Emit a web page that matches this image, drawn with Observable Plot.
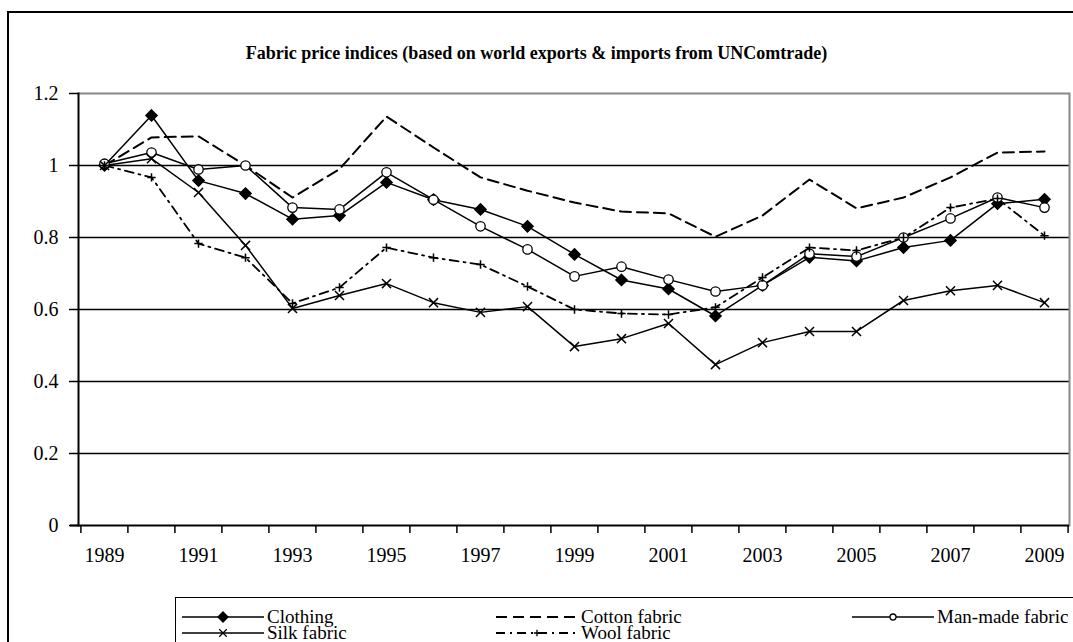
<!DOCTYPE html>
<html>
<head>
<meta charset="utf-8">
<script src="https://cdn.jsdelivr.net/npm/d3@7"></script>
<script src="https://cdn.jsdelivr.net/npm/@observablehq/plot@0.6"></script>
<style>
  body { margin: 0; background: #fff; }
  #wrap { position: relative; width: 1073px; height: 642px; overflow: hidden; background: #fff; font-family: "Liberation Serif", "DejaVu Serif", serif; color: #000; }
  #outer { position: absolute; left: 7px; top: 11px; width: 1080px; height: 700px; border: 2px solid #000; }
  #title { position: absolute; left: 0; top: 42px; width: 1073px; text-align: center; font-weight: bold; font-size: 18px; line-height: 22px; }
  #plot { position: absolute; left: 0; top: 80px; }
  #legend { position: absolute; left: 175px; top: 597px; width: 920px; height: 80px; border: 1.5px solid #000; background: #fff; }
  .item { position: absolute; display: flex; align-items: center; font-size: 19px; line-height: 16px; height: 16px; white-space: nowrap; }
  .item svg { display: block; margin-right: 3px; }
</style>
</head>
<body>
<div id="wrap">
  <div id="outer"></div>
  <div id="title">Fabric price indices (based on world exports &amp; imports from UNComtrade)</div>
  <div id="plot"></div>
  <div id="legend"></div>
</div>
<script>
// ---- data ----
const years = [1989, 1990, 1991, 1992, 1993, 1994, 1995, 1996, 1997, 1998, 1999, 2000, 2001, 2002, 2003, 2004, 2005, 2006, 2007, 2008, 2009];
const clothing = [1.0, 1.139, 0.958, 0.922, 0.851, 0.861, 0.953, 0.905, 0.878, 0.831, 0.753, 0.682, 0.657, 0.582, 0.667, 0.745, 0.735, 0.772, 0.792, 0.894, 0.906];
const cotton = [1.0, 1.078, 1.081, 1.0, 0.911, 0.99, 1.136, 1.05, 0.967, 0.93, 0.897, 0.872, 0.867, 0.802, 0.861, 0.961, 0.881, 0.911, 0.967, 1.036, 1.039];
const manmade = [1.005, 1.036, 0.989, 1.0, 0.883, 0.878, 0.981, 0.905, 0.831, 0.767, 0.692, 0.719, 0.683, 0.65, 0.667, 0.755, 0.747, 0.8, 0.853, 0.911, 0.883];
const silk = [1.0, 1.019, 0.925, 0.778, 0.603, 0.639, 0.672, 0.619, 0.592, 0.608, 0.497, 0.519, 0.561, 0.447, 0.508, 0.539, 0.539, 0.625, 0.652, 0.667, 0.619];
const wool = [1.0, 0.967, 0.783, 0.744, 0.617, 0.661, 0.772, 0.744, 0.725, 0.664, 0.6, 0.589, 0.586, 0.606, 0.689, 0.772, 0.764, 0.8, 0.883, 0.908, 0.805];
const seriesNames = ["Clothing", "Cotton fabric", "Man-made fabric", "Silk fabric", "Wool fabric"];
const xTickLabels = [1989, 1991, 1993, 1995, 1997, 1999, 2001, 2003, 2005, 2007, 2009];
const yTicks = [0, 0.2, 0.4, 0.6, 0.8, 1.0, 1.2];
const gridValues = [0.2, 0.4, 0.6, 0.8, 1.0];

// ---- styles ----
const styles = {
  "Clothing":        {dash: null,       width: 1.5, symbol: "diamond2", r: 5,   fill: "black", stroke: "black"},
  "Cotton fabric":   {dash: "11,6",     width: 2,   symbol: null},
  "Man-made fabric": {dash: null,       width: 1.5, symbol: "circle",   r: 4.7, fill: "white", stroke: "black"},
  "Silk fabric":     {dash: null,       width: 1.5, symbol: "times",    r: 4.2, fill: "none",  stroke: "black"},
  "Wool fabric":     {dash: "9,5,2,5",  width: 1.8, symbol: "plus",     r: 2.8, fill: "none",  stroke: "black"}
};
const values = {"Clothing": clothing, "Cotton fabric": cotton, "Man-made fabric": manmade, "Silk fabric": silk, "Wool fabric": wool};
const rows = seriesNames.map(name => years.map((year, i) => ({year, value: values[name][i], name})));

const W = 1073, H = 500;
const mL = 78, mR = 4, mT = 13, mB = 55;
const step = (W - mL - mR) / years.length;

const lineMarks = [];
const dotMarks = [];
rows.forEach(data => {
  const s = styles[data[0].name];
  lineMarks.push(Plot.line(data, {x: "year", y: "value", stroke: "black", strokeWidth: s.width, strokeDasharray: s.dash || undefined}));
  if (s.symbol) {
    dotMarks.push(Plot.dot(data, {x: "year", y: "value", symbol: s.symbol, r: s.r, fill: s.fill, stroke: s.stroke, strokeWidth: s.symbol === "circle" ? 1.3 : 1.5}));
  }
});

const chart = Plot.plot({
  width: W, height: H,
  marginLeft: mL, marginRight: mR, marginTop: mT, marginBottom: mB,
  style: {fontFamily: "'Liberation Serif', 'DejaVu Serif', serif", fontSize: "20px", color: "black", background: "transparent"},
  x: {type: "point", domain: years, padding: 0.5, axis: null},
  y: {domain: [0, 1.2], axis: null},
  marks: [
    Plot.ruleY(gridValues, {stroke: "black", strokeWidth: 1.5}),
    Plot.ruleY([1.2], {stroke: "#888", strokeWidth: 2}),
    Plot.frame({anchor: "right", stroke: "#888", strokeWidth: 2}),
    Plot.ruleY([0], {stroke: "black", strokeWidth: 2, insetLeft: -8}),
    Plot.frame({anchor: "left", stroke: "black", strokeWidth: 2}),
    Plot.axisY({ticks: yTicks, tickSize: 9, tickPadding: 11, tickFormat: d => String(+d.toFixed(1)), stroke: "black", strokeWidth: 1.5, label: null}),
    Plot.axisX({ticks: years, tickSize: 8, tickFormat: () => "", dx: -step / 2, stroke: "black", strokeWidth: 1.5, label: null}),
    Plot.axisX({ticks: [years[years.length - 1]], tickSize: 8, tickFormat: () => "", dx: step / 2, stroke: "black", strokeWidth: 1.5, label: null}),
    Plot.axisX({ticks: xTickLabels, tickSize: 0, tickPadding: 22, tickFormat: d => String(d), label: null}),
    ...lineMarks,
    ...dotMarks
  ]
});
document.getElementById("plot").appendChild(chart);

// ---- legend ----
const legendPos = {
  "Clothing":        {left: 6,   top: 11},
  "Cotton fabric":   {left: 320, top: 11},
  "Man-made fabric": {left: 676, top: 11},
  "Silk fabric":     {left: 6,   top: 27},
  "Wool fabric":     {left: 320, top: 27}
};
const legend = document.getElementById("legend");
const swatchSymbols = {diamond2: d3.symbolDiamond2, circle: d3.symbolCircle, times: d3.symbolTimes, plus: d3.symbolPlus};
seriesNames.forEach(name => {
  const s = styles[name];
  const p = legendPos[name];
  const item = document.createElement("div");
  item.className = "item";
  item.style.left = p.left + "px";
  item.style.top = p.top + "px";
  const sw = 82, sh = 14;
  let svg = `<svg width="${sw}" height="${sh}"><line x1="0" x2="${sw}" y1="${sh/2}" y2="${sh/2}" stroke="black" stroke-width="${s.width}" ${s.dash ? `stroke-dasharray="${s.dash}"` : ""}/>`;
  if (s.symbol) {
    const rr = s.symbol === "diamond2" ? 4.5 : s.symbol === "circle" ? 3 : s.symbol === "times" ? 3.5 : 2.2;
    const path = d3.symbol(swatchSymbols[s.symbol], Math.PI * rr * rr)();
    svg += `<path d="${path}" transform="translate(${sw/2},${sh/2})" fill="${s.fill}" stroke="${s.stroke}" stroke-width="1.3"/>`;
  }
  svg += `</svg>`;
  item.innerHTML = svg + `<span>${name}</span>`;
  legend.appendChild(item);
});
</script>
</body>
</html>
